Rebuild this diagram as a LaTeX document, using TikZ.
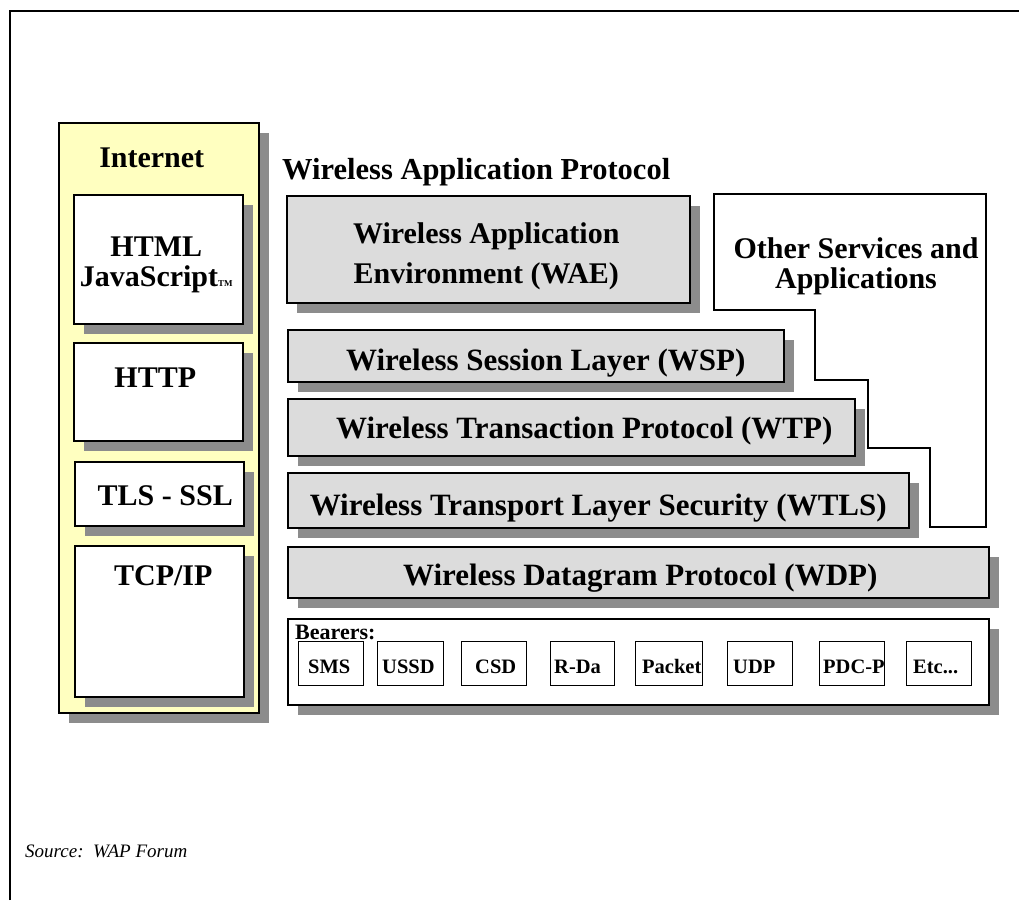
\documentclass[tikz,border=0pt]{standalone}
\usepackage{fontspec}
\setmainfont{Liberation Serif}
\usetikzlibrary{shadows}

\definecolor{inetyellow}{RGB}{255,255,192}
\definecolor{layergray}{RGB}{220,220,220}
\definecolor{shadowgray}{RGB}{140,140,140}

\tikzset{
  shadebox/.style={draw=black, line width=1.5pt, anchor=north west, inner sep=0pt,
    drop shadow={shadow xshift=10pt, shadow yshift=-10pt, fill=shadowgray, opacity=1}},
  inetbox/.style={shadebox, fill=inetyellow},
  whitebox/.style={shadebox, fill=white},
  layerbox/.style={shadebox, fill=layergray},
  bearerbox/.style={draw=black, line width=1pt, fill=white, anchor=north west, inner sep=0pt,
    minimum height=44pt},
  boxtext/.style={font=\fontsize{30}{30}\selectfont\bfseries, inner sep=0pt, anchor=base},
  layertext/.style={boxtext, font=\fontsize{31}{31}\selectfont\bfseries},
  bearertext/.style={font=\fontsize{20.5}{20.5}\selectfont\bfseries, inner sep=0pt,
    anchor=base west, yshift=-32pt},
}

\begin{document}
\begin{tikzpicture}[x=1pt, y=-1pt]
  \useasboundingbox (0,0) rectangle (1019,900);

  % page frame
  \draw[line width=2.5pt] (10,900) -- (10,11) -- (1019,11);

  % Internet stack
  \node[inetbox, minimum width=200pt, minimum height=590pt,
    label={[boxtext, xshift=-7pt, yshift=-45pt]north:Internet}] (internet) at (58,122) {};
  \node[whitebox, minimum width=169pt, minimum height=129pt,
    label={[boxtext, align=center, anchor=north, xshift=-2pt, yshift=-43pt]north:HTML\\JavaScript{\fontsize{9}{9}\selectfont TM}}] (html) at (73,194) {};
  \node[whitebox, minimum width=169pt, minimum height=98pt,
    label={[boxtext, xshift=-3pt, yshift=-45pt]north:HTTP}] (http) at (73,342) {};
  \node[whitebox, minimum width=169pt, minimum height=64pt,
    label={[boxtext, xshift=6pt, yshift=-44pt]north:TLS - SSL}] (tls) at (74,461) {};
  \node[whitebox, minimum width=169pt, minimum height=151pt,
    label={[boxtext, xshift=4pt, yshift=-40pt]north:TCP/IP}] (tcpip) at (74,545) {};

  % WAP stack
  \node[boxtext, font=\fontsize{30.5}{30.5}\selectfont\bfseries, anchor=base west] (waptitle) at (282,179) {Wireless Application Protocol};

  \node[layerbox, minimum width=403pt, minimum height=107pt,
    label={[boxtext, font=\fontsize{30}{40}\selectfont\bfseries, align=center, anchor=north, xshift=-2pt, yshift=-27pt]north:Wireless Application\\Environment (WAE)}] (wae) at (286,195) {};

  % Other services
  \draw[line width=1.5pt, fill=white] (714,194) -- (986,194) -- (986,527) -- (930,527)
    -- (930,448) -- (868,448) -- (868,380) -- (815,380) -- (815,310) -- (714,310) -- cycle;
  \node[boxtext, align=center, anchor=north] (others) at (856,237) {Other Services and\\Applications};

  \node[layerbox, minimum width=496pt, minimum height=52pt,
    label={[layertext, xshift=10pt, yshift=-41pt]north:Wireless Session Layer (WSP)}] (wsp) at (287,329) {};
  \node[layerbox, minimum width=567pt, minimum height=57pt,
    label={[layertext, xshift=13pt, yshift=-40pt]north:Wireless Transaction Protocol (WTP)}] (wtp) at (287,398) {};
  \node[layerbox, minimum width=621pt, minimum height=55pt,
    label={[layertext, xshift=0pt, yshift=-43pt]north:Wireless Transport Layer Security (WTLS)}] (wtls) at (287,472) {};
  \node[layerbox, minimum width=701pt, minimum height=51pt,
    label={[layertext, xshift=2pt, yshift=-39pt]north:Wireless Datagram Protocol (WDP)}] (wdp) at (287,546) {};

  % Bearers
  \node[whitebox, minimum width=701pt, minimum height=86pt,
    label={[bearertext, font=\fontsize{22}{22}\selectfont\bfseries, xshift=8pt, yshift=11pt]north west:{Bearers:}}] (bearers) at (287,618) {};
  \node[bearerbox, minimum width=65pt, label={[bearertext, xshift=10pt]north west:SMS}] (sms) at (298,641) {};
  \node[bearerbox, minimum width=66pt, label={[bearertext, xshift=5pt]north west:USSD}] (ussd) at (377,641) {};
  \node[bearerbox, minimum width=65pt, label={[bearertext, xshift=14pt]north west:CSD}] (csd) at (461,641) {};
  \node[bearerbox, minimum width=64pt, label={[bearertext, xshift=4pt]north west:R-Da}] (rda) at (550,641) {};
  \node[bearerbox, minimum width=67pt, label={[bearertext, xshift=7pt]north west:Packet}] (packet) at (635,641) {};
  \node[bearerbox, minimum width=65pt, label={[bearertext, xshift=6pt]north west:UDP}] (udp) at (727,641) {};
  \node[bearerbox, minimum width=65pt, label={[bearertext, xshift=4pt]north west:PDC-P}] (pdcp) at (819,641) {};
  \node[bearerbox, minimum width=65pt, label={[bearertext, xshift=7pt]north west:Etc...}] (etc) at (906,641) {};

  % Source
  \node[font=\fontsize{19}{19}\selectfont\itshape, anchor=base west, inner sep=0pt] (source) at (25,857) {Source:\ \ WAP Forum};
\end{tikzpicture}
\end{document}
